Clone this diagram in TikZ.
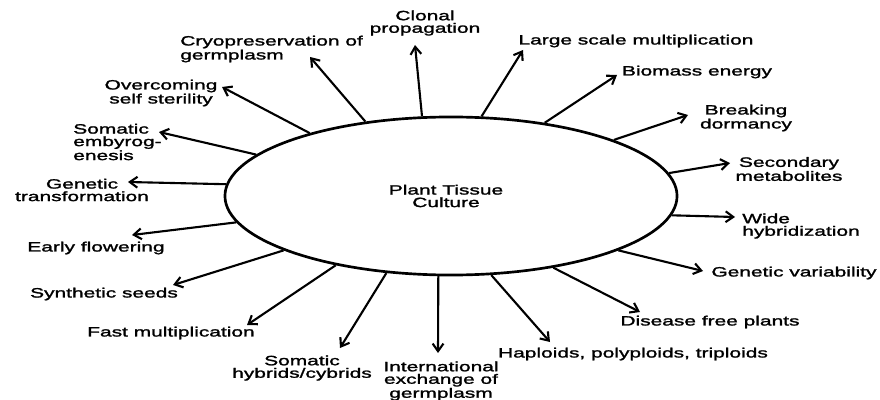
\documentclass[tikz,border=0pt]{standalone}
\usepackage{fontspec}
\setmainfont{Liberation Sans}[FakeStretch=1.55,FakeBold=1.6]
\usepackage{tikz}
\usetikzlibrary{arrows.meta,positioning,shapes.geometric}

\begin{document}
\begin{tikzpicture}[x=0.025cm, y=-0.025cm,
  lbl/.style={inner sep=0pt, align=center, font=\fontsize{9.6pt}{8.9pt}\selectfont},
  use/.style={line width=1.5pt, -{Straight Barb[length=1.9mm, width=2.7mm]}}]
\useasboundingbox (0,0) rectangle (880,400);

% Central ellipse
\node[ellipse, draw, line width=1.9pt, minimum width=11.3cm, minimum height=3.95cm, inner sep=0pt, lbl] (ptc) at (451,196) {};
\node[lbl] (ptctxt) at (446,196) {Plant Tissue\\Culture};

% Arrow tips
\coordinate (t1) at (415,45);
\coordinate (t2) at (310,57);
\coordinate (t3) at (222,87);
\coordinate (t4) at (159,132);
\coordinate (t5) at (128,182);
\coordinate (t6) at (132,235);
\coordinate (t7) at (173,285);
\coordinate (t8) at (247,325);
\coordinate (t9) at (340,348);
\coordinate (t10) at (438,353);
\coordinate (t11) at (550,342);
\coordinate (t12) at (640,312);
\coordinate (t13) at (703,271);
\coordinate (t14) at (735,217);
\coordinate (t15) at (730,163);
\coordinate (t16) at (688,115);
\coordinate (t17) at (617,75);
\coordinate (t18) at (523,50);

% Applications
\node[lbl] (clonal) at (425,23) {Clonal\\propagation};
\node[lbl, align=left, anchor=west] (cryo) at (180,49) {Cryopreservation of\\germplasm};
\node[lbl] (sterility) at (161,93) {Overcoming\\self sterility};
\node[lbl, align=left, anchor=west] (embryo) at (73,142) {Somatic\\embyrog-\\enesis};
\node[lbl] (transform) at (82,190) {Genetic\\transformation};
\node[lbl] (flower) at (96,248) {Early flowering};
\node[lbl] (seeds) at (104,294) {Synthetic seeds};
\node[lbl] (fast) at (171,333) {Fast multiplication};
\node[lbl] (hybrids) at (302,368) {Somatic\\hybrids/cybrids};
\node[lbl] (exchange) at (441,381) {International\\exchange of\\germplasm};
\node[lbl] (ploids) at (633,354) {Haploids, polyploids, triploids};
\node[lbl] (disease) at (710,322) {Disease free plants};
\node[lbl] (variab) at (794,273) {Genetic variability};
\node[lbl, align=left, anchor=west] (wide) at (742,226) {Wide\\hybridization};
\node[lbl] (second) at (789,169) {Secondary\\metabolites};
\node[lbl] (dorm) at (746,118) {Breaking\\dormancy};
\node[lbl] (biomass) at (697,72) {Biomass energy};
\node[lbl] (large) at (636,41) {Large scale multiplication};

% Arrows out of the ellipse
\draw[use] (ptc.110) -- (t1);
\draw[use] (ptc.139) -- (t2);
\draw[use] (ptc.156) -- (t3);
\draw[use] (ptc.168) -- (t4);
\draw[use] (ptc.177.7) -- (t5);
\draw[use] (ptc.187) -- (t6);
\draw[use] (ptc.198) -- (t7);
\draw[use] (ptc.211) -- (t8);
\draw[use] (ptc.230) -- (t9);
\draw[use] (ptc.261) -- (t10);
\draw[use] (ptc.297.5) -- (t11);
\draw[use] (ptc.325.7) -- (t12);
\draw[use] (ptc.342.8) -- (t13);
\draw[use] (ptc.355.4) -- (t14);
\draw[use] (ptc.6.3) -- (t15);
\draw[use] (ptc.19.4) -- (t16);
\draw[use] (ptc.38.4) -- (t17);
\draw[use] (ptc.69.8) -- (t18);
\end{tikzpicture}
\end{document}
